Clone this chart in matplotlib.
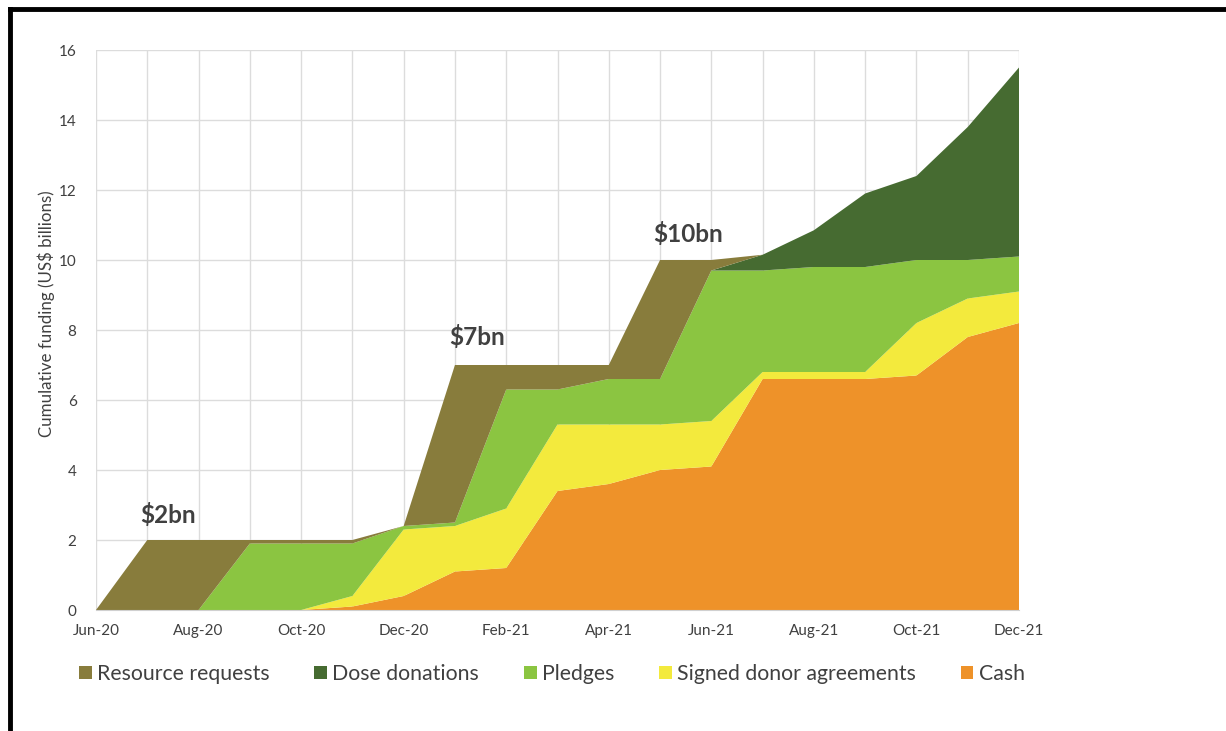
import matplotlib
matplotlib.use("Agg")
import matplotlib.pyplot as plt
from matplotlib.lines import Line2D
import numpy as np

plt.rcParams['font.family'] = ['Lato', 'DejaVu Sans']

# months Jun-20 .. Dec-21
months = ['Jun-20', 'Jul-20', 'Aug-20', 'Sep-20', 'Oct-20', 'Nov-20', 'Dec-20',
          'Jan-21', 'Feb-21', 'Mar-21', 'Apr-21', 'May-21', 'Jun-21', 'Jul-21',
          'Aug-21', 'Sep-21', 'Oct-21', 'Nov-21', 'Dec-21']

# US$ billions per category (stacked, bottom to top)
cash = [0, 0, 0, 0, 0, 0.1, 0.4, 1.1, 1.2, 3.4, 3.6, 4.0, 4.1, 6.6, 6.6, 6.6, 6.7, 7.8, 8.2]
signed = [0, 0, 0, 0, 0, 0.3, 1.9, 1.3, 1.7, 1.9, 1.7, 1.3, 1.3, 0.2, 0.2, 0.2, 1.5, 1.1, 0.9]
pledges = [0, 0, 0, 1.9, 1.9, 1.5, 0.1, 0.1, 3.4, 1.0, 1.3, 1.3, 4.3, 2.9, 3.0, 3.0, 1.8, 1.1, 1.0]
dose = [0, 0, 0, 0, 0, 0, 0, 0, 0, 0, 0, 0, 0, 0.45, 1.05, 2.1, 2.4, 3.8, 5.4]
resource = [0, 2, 2, 0.1, 0.1, 0.1, 0, 4.5, 0.7, 0.7, 0.4, 3.4, 0.3, 0, 0, 0, 0, 0, 0]

labels = ['Cash', 'Signed donor agreements', 'Pledges', 'Dose donations', 'Resource requests']
colors = ['#EE9229', '#F3EA3D', '#8BC541', '#466B31', '#887C3C']

# milestone labels
milestones = ['$2bn', '$7bn', '$10bn']
ms_x = [1.4, 7.43, 11.55]
ms_y = [2.7, 7.8, 10.74]

x = np.arange(len(months))

fig = plt.figure(figsize=(12.26, 7.31), dpi=100)
ax = fig.add_axes([96/1226, 121/731, 923/1226, 560/731])

ax.stackplot(x, cash, signed, pledges, dose, resource,
             colors=colors, labels=labels, linewidth=0, zorder=2)

ax.set_xlim(0, 18)
ax.set_ylim(0, 16)
ax.set_xticks(x, minor=True)
ax.set_xticks(x[::2])
ax.set_xticklabels(months[::2])
ax.set_yticks(np.arange(0, 17, 2))
ax.grid(True, which='both', color='#DCDCDC', linewidth=1, zorder=0)
ax.set_axisbelow(True)
for s in ['top', 'right', 'left']:
    ax.spines[s].set_visible(False)
ax.spines['bottom'].set_color('#D0D0D0')
ax.tick_params(which='both', length=0, labelsize=11, colors='#404040')
ax.tick_params(axis='x', pad=10)
ax.tick_params(axis='y', pad=14)
ax.set_ylabel('Cumulative funding (US$ billions)', fontsize=12.2, color='#404040')
ax.yaxis.set_label_coords(-0.044, 0.53)

for t, xx, yy in zip(milestones, ms_x, ms_y):
    ax.text(xx, yy, t, fontsize=17.5, fontweight='bold', color='#404040',
            ha='center', va='center')

# legend in the order shown in the original
h, l = ax.get_legend_handles_labels()
order = [4, 3, 2, 1, 0]
fig.legend([h[i] for i in order], [l[i] for i in order], loc='center left',
           bbox_to_anchor=(60/1226, 1 - 674/731), ncol=5, frameon=False,
           fontsize=15.3, handlelength=0.6, handleheight=0.6, handletextpad=0.25,
           columnspacing=2.1, labelcolor='#404040')

# black frame of the original figure
fig.add_artist(Line2D([10/1226, 1], [1 - 9/731, 1 - 9/731], color='black', lw=3.5))
fig.add_artist(Line2D([10/1226, 10/1226], [0, 1 - 9/731], color='black', lw=3.5))

fig.savefig('out.png', dpi=100)
